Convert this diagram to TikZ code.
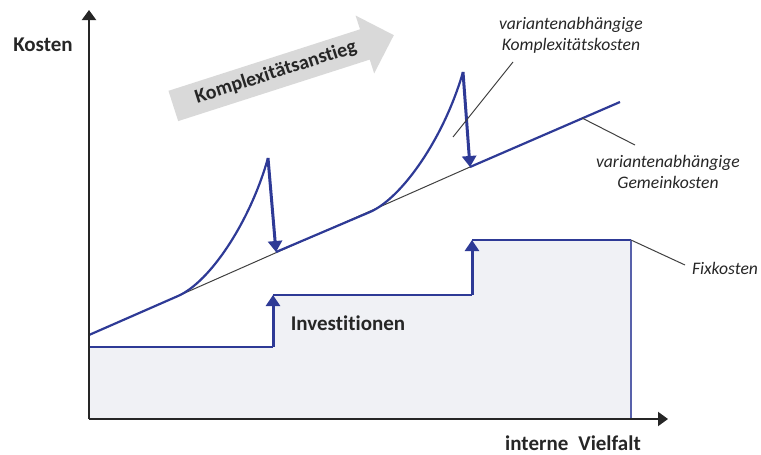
\documentclass[tikz,border=0pt]{standalone}
\usepackage{fontspec}
\setmainfont{Carlito}[Ligatures=NoCommon]
\usetikzlibrary{arrows.meta,shapes.arrows}

\definecolor{costblue}{RGB}{46,58,150}
\definecolor{fixfill}{RGB}{240,241,245}
\definecolor{risegray}{RGB}{217,217,217}
\definecolor{labeltext}{RGB}{38,38,38}

\begin{document}
\begin{tikzpicture}[x=0.5pt, y=-0.5pt,
    axislabel/.style={font=\fontsize{10.5}{12}\selectfont\bfseries, text=labeltext},
    notelabel/.style={font=\fontsize{8.8}{10.5}\selectfont\itshape, text=labeltext, align=center},
    costline/.style={costblue, line width=1.1pt},
    dropline/.style={costblue, line width=1.5pt, -{Triangle[length=5.5pt,width=7pt]}},
    leader/.style={black!75, line width=0.5pt}]
    \useasboundingbox (0,0) rectangle (761,455);

    % Define the levels
    \def\xo{89}
    \def\yo{419}

    % Fixed cost area
    \fill[fixfill] (\xo,\yo) -- (\xo,347) -- (273,347) -- (273,295) -- (472,295)
        -- (472,240) -- (631,240) -- (631,\yo) -- cycle;
    \coordinate (f0) at (\xo,347);
    \coordinate (f1) at (273,347);
    \coordinate (f2) at (273,295);
    \coordinate (f3) at (472,295);
    \coordinate (f4) at (472,240);
    \coordinate (f5) at (631,240);
    \coordinate (f6) at (631,\yo);
    \draw[costline] (f0) -- (f1);
    \draw[dropline] (f1) -- (f2);
    \draw[costline] (f2) -- (f3);
    \draw[dropline] (f3) -- (f4);
    \draw[costline] (f4) -- (f5);
    \draw[costblue!80, line width=0.8pt] (f5) -- (f6);

    % Overhead line with the complexity peaks
    \coordinate (g0) at (\xo,335);
    \coordinate (g1) at (620,102);
    \coordinate (c1s) at (178,296);
    \coordinate (c1p) at (268,158);
    \coordinate (c1e) at (276,252);
    \coordinate (c2s) at (370,212);
    \coordinate (c2p) at (463,72);
    \coordinate (c2e) at (470,167);
    \draw[leader] (c1s) -- (c2e);
    \draw[costline] (g0) -- (c1s) .. controls (210,282) and (250,222) .. (c1p);
    \draw[dropline] (c1p) -- (c1e);
    \draw[costline] (c1e) -- (c2s) .. controls (402,198) and (444,138) .. (c2p);
    \draw[dropline] (c2p) -- (c2e);
    \draw[costline] (c2e) -- (g1);

    % Draw axes
    \draw[black!85, line width=1pt, -{Triangle[length=5pt,width=7pt]}] (\xo,\yo) -- (\xo,10);
    \draw[black!85, line width=1pt, -{Triangle[length=5pt,width=7pt]}] (\xo,\yo) -- (668,\yo);

    % Rising complexity arrow
    \node[single arrow, fill=risegray, rotate=17.8, minimum height=115.8pt,
        single arrow head extend=7.25pt, text height=7pt, text depth=2pt,
        inner ysep=3.25pt, font=\fontsize{10}{12}\selectfont\bfseries,
        text=labeltext] (rise) at (276,73) {Komplexitätsanstieg};

    % Labels
    \node[axislabel] (kosten) at (43,45) {Kosten};
    \node[axislabel] (vielfalt) at (573,443) {interne\hspace{0.25em} Vielfalt};
    \node[axislabel] (invest) at (348,323) {Investitionen};
    \node[notelabel] (komplex) at (571,35) {variantenabhängige\\Komplexitätskosten};
    \node[notelabel] (gemein) at (668,172) {variantenabhängige\\Gemeinkosten};
    \node[notelabel] (fix) at (725,268) {Fixkosten};

    % Leader lines
    \coordinate (l1a) at (453,137);
    \coordinate (l1b) at (513,62);
    \coordinate (l2a) at (582,118);
    \coordinate (l2b) at (635,145);
    \coordinate (l3b) at (685,265);
    \draw[leader] (l1a) -- (l1b);
    \draw[leader] (l2a) -- (l2b);
    \draw[leader] (f5) -- (l3b);
\end{tikzpicture}
\end{document}
